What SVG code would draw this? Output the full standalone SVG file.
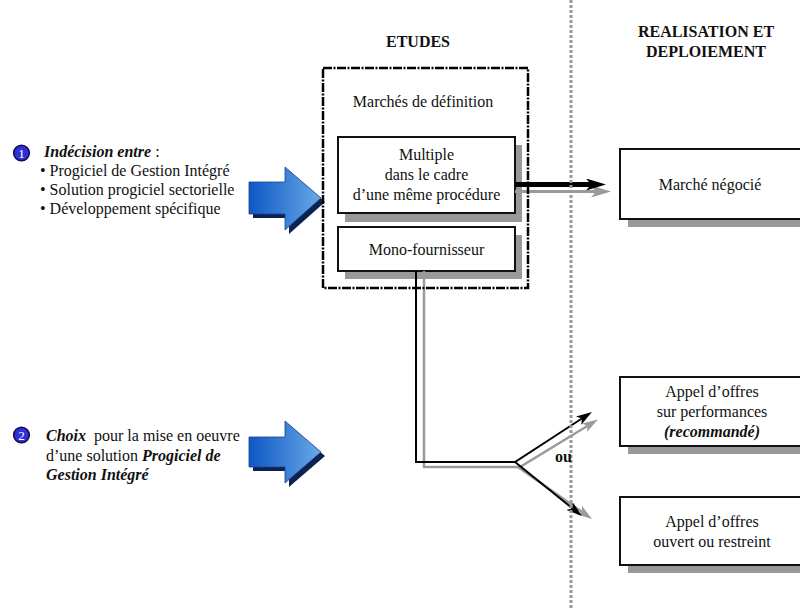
<svg xmlns="http://www.w3.org/2000/svg" width="800" height="610" viewBox="0 0 800 610">
  <style>
    text { font-family: "Liberation Serif", "Times New Roman", serif; font-size: 16px; fill: #111; }
    .hd { font-weight: bold; text-anchor: middle; }
    .bi { font-weight: bold; font-style: italic; }
    .c { text-anchor: middle; }
    .box { fill: #fff; stroke: #111; stroke-width: 2; }
    .shadow { fill: #999; }
    .num { fill: #3030d6; stroke: #0d0d55; stroke-width: 1.6; }
    .numt { fill: #fff; font-size: 13px; text-anchor: middle; }
    .bigarrow { fill: url(#blueGrad); stroke: #1d3f8a; stroke-width: 0.8; }
    .bigshadow { fill: #0c2350; }
    .k { fill: none; stroke: #000; stroke-width: 2; }
    .g { fill: none; stroke: #9a9a9a; stroke-width: 2.5; }
  </style>
  <defs>
    <linearGradient id="blueGrad" x1="0" y1="0" x2="1" y2="0">
      <stop offset="0" stop-color="#0d58c6"/>
      <stop offset="1" stop-color="#6aa8e6"/>
    </linearGradient>
    <marker id="headK" markerUnits="userSpaceOnUse" markerWidth="20" markerHeight="12" refX="5" refY="6" orient="auto">
      <path d="M0,0 L20,6 L0,12 L5,6 z" fill="#000"/>
    </marker>
    <marker id="headG" markerUnits="userSpaceOnUse" markerWidth="20" markerHeight="12" refX="5" refY="6" orient="auto">
      <path d="M0,0 L20,6 L0,12 L5,6 z" fill="#9a9a9a"/>
    </marker>
    <marker id="tipK" markerUnits="userSpaceOnUse" markerWidth="16" markerHeight="10" refX="4" refY="5" orient="auto">
      <path d="M0,0 L16,5 L0,10 L4,5 z" fill="#000"/>
    </marker>
    <marker id="tipG" markerUnits="userSpaceOnUse" markerWidth="16" markerHeight="10" refX="4" refY="5" orient="auto">
      <path d="M0,0 L16,5 L0,10 L4,5 z" fill="#9a9a9a"/>
    </marker>
  </defs>

  <rect width="800" height="610" fill="#fff"/>

  <!-- column headings -->
  <g id="headings">
    <text class="hd" x="418" y="47">ETUDES</text>
    <text class="hd" x="706" y="37">REALISATION ET</text>
    <text class="hd" x="706" y="57">DEPLOIEMENT</text>
  </g>

  <!-- step 1 -->
  <g id="step1">
    <circle class="num" cx="21.5" cy="153" r="7.8"/>
    <text class="numt" x="21.5" y="157.5">1</text>
    <text x="44" y="157"><tspan class="bi">Indécision entre</tspan> :</text>
    <text x="40" y="176">• Progiciel de Gestion Intégré</text>
    <text x="40" y="195">• Solution progiciel sectorielle</text>
    <text x="40" y="214">• Développement spécifique</text>
  </g>
  <g id="arrow1">
    <path class="bigshadow" d="M253,186 H289 V171 L325,202 L289,234 V218 H253 z"/>
    <path class="bigarrow" d="M249,182 H285 V167 L321,198 L285,230 V214 H249 z"/>
  </g>

  <!-- step 2 -->
  <g id="step2">
    <circle class="num" cx="21.5" cy="435" r="7.8"/>
    <text class="numt" x="21.5" y="439.5">2</text>
    <text x="46" y="441"><tspan class="bi">Choix</tspan><tspan dx="4"> pour la mise en oeuvre</tspan></text>
    <text x="46" y="461">d’une solution <tspan class="bi">Progiciel de</tspan></text>
    <text x="46" y="480" class="bi">Gestion Intégré</text>
  </g>
  <g id="arrow2">
    <path class="bigshadow" d="M253,441 H289 V425 L325,456 L289,487 V471 H253 z"/>
    <path class="bigarrow" d="M249,437 H285 V421 L321,452 L285,483 V467 H249 z"/>
  </g>

  <!-- study-phase contracts -->
  <g id="definition">
    <text class="c" x="423" y="107">Marchés de définition</text>
  </g>
  <g id="multiple">
    <rect class="shadow" x="345" y="145" width="177" height="77"/>
    <rect class="box" x="338" y="137" width="177" height="76"/>
    <text class="c" x="426.5" y="160">Multiple</text>
    <text class="c" x="426.5" y="180">dans le cadre</text>
    <text class="c" x="426.5" y="200">d’une même procédure</text>
  </g>
  <g id="mono">
    <rect class="shadow" x="345" y="235" width="177" height="44"/>
    <rect class="box" x="338" y="227" width="177" height="44"/>
    <text class="c" x="426.5" y="255">Mono-fournisseur</text>
  </g>

  <!-- delivery-phase contracts -->
  <g id="negocie">
    <rect class="shadow" x="628" y="157" width="185" height="70"/>
    <rect class="box" x="620" y="149" width="185" height="70"/>
    <text class="c" x="710" y="190">Marché négocié</text>
  </g>
  <g id="performances">
    <rect class="shadow" x="628" y="385" width="185" height="69"/>
    <rect class="box" x="620" y="377" width="185" height="69"/>
    <text class="c" x="712" y="397">Appel d’offres</text>
    <text class="c" x="712" y="417">sur performances</text>
    <text class="c bi" x="712" y="437">(recommandé)</text>
  </g>
  <g id="ouvert">
    <rect class="shadow" x="628" y="505" width="185" height="68"/>
    <rect class="box" x="620" y="497" width="185" height="68"/>
    <text class="c" x="712" y="527">Appel d’offres</text>
    <text class="c" x="712" y="547">ouvert ou restreint</text>
  </g>

  <!-- connectors -->
  <g id="connectors">
    <line x1="515" y1="191.5" x2="596" y2="191.5" stroke="#9a9a9a" stroke-width="3" marker-end="url(#headG)"/>
    <line x1="515" y1="184.5" x2="591" y2="184.5" stroke="#000" stroke-width="5" marker-end="url(#headK)"/>
    <polyline class="g" points="424,271 424,467 520,467 587.7,425.7" marker-end="url(#tipG)"/>
    <line class="g" x1="518" y1="467" x2="582.2" y2="512.1" marker-end="url(#tipG)"/>
    <polyline class="k" points="416,271 416,462 515,462 581.9,418.5" marker-end="url(#tipK)"/>
    <line class="k" x1="515" y1="462" x2="572.6" y2="508.5" marker-end="url(#tipK)"/>
  </g>

  <!-- study frame and phase divider -->
  <g id="frame">
    <rect x="323" y="68" width="205" height="220" fill="none" stroke="#000" stroke-width="2.5" stroke-dasharray="9 1.5 2 1.5"/>
  </g>
  <g id="divider">
    <line x1="571" y1="0" x2="571" y2="610" stroke="#999" stroke-width="3" stroke-dasharray="3 2"/>
  </g>
  <g id="ou">
    <text x="555" y="462" font-weight="bold" font-size="13">ou</text>
  </g>
</svg>
